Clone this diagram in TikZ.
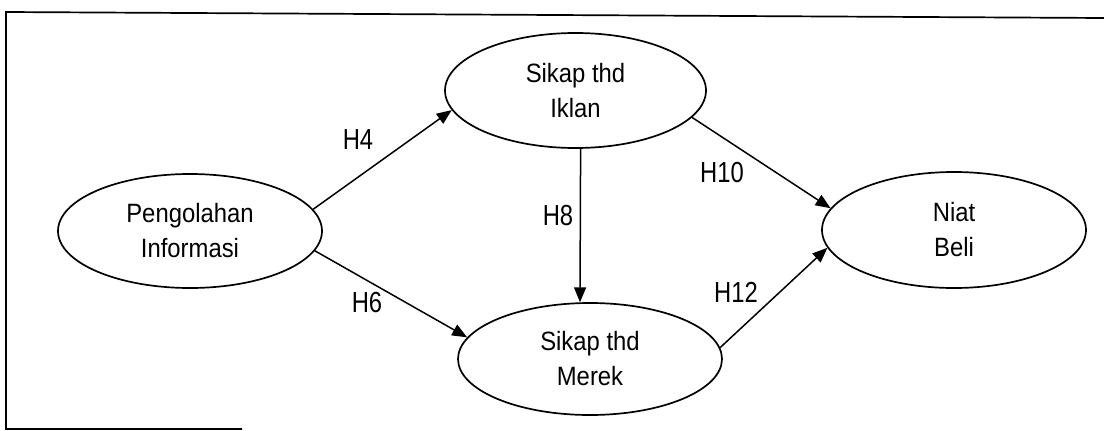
\documentclass[tikz,border=0pt]{standalone}
\usepackage{fontspec}
\setmainfont{Liberation Sans}
\newfontfamily\nodefont[FakeStretch=0.9]{Liberation Sans}
\newfontfamily\labelfont[FakeStretch=0.82]{Liberation Sans}
\usetikzlibrary{shapes.geometric,arrows.meta}

\tikzset{
  construct/.style={ellipse, draw, line width=1.7pt, inner sep=0pt,
    align=center, font=\nodefont\fontsize{26.5}{35}\selectfont},
  path/.style={-{Triangle[length=15pt,width=12pt]}, line width=1.5pt},
  hyp/.style={font=\labelfont\fontsize{29}{33}\selectfont},
  frame/.style={line width=1.7pt}
}

\begin{document}
\begin{tikzpicture}[x=1pt,y=-1pt]
  \useasboundingbox (0,0) rectangle (1104,431);

  % outer frame
  \draw[frame] (1104,18) -- (6,12) -- (6,429) -- (242,429);

  % constructs
  \node[construct, minimum width=264pt, minimum height=114pt] (pi) at (190,231) {Pengolahan\\Informasi};
  \node[construct, minimum width=261pt, minimum height=115pt] (si) at (575.5,90.5) {Sikap thd\\Iklan};
  \node[construct, minimum width=264pt, minimum height=112pt] (sm) at (590,359) {Sikap thd\\Merek};
  \node[construct, minimum width=264pt, minimum height=116pt] (nb) at (954,230) {Niat\\Beli};

  % hypothesised paths
  \draw[path] (pi.10.7) -- (si.189);
  \draw[path] (pi.-9.3) -- (sm.170);
  \draw[path] (si.-85) -- (sm.100);
  \draw[path] (si.-13.6) -- (nb.170);
  \draw[path] (sm.5.3) -- (nb.188);

  % hypothesis labels
  \node[hyp] (h4) at (358,140) {H4};
  \node[hyp] (h6) at (367,303) {H6};
  \node[hyp] (h8) at (558,216) {H8};
  \node[hyp] (h10) at (722,173) {H10};
  \node[hyp] (h12) at (736,292) {H12};
\end{tikzpicture}
\end{document}
